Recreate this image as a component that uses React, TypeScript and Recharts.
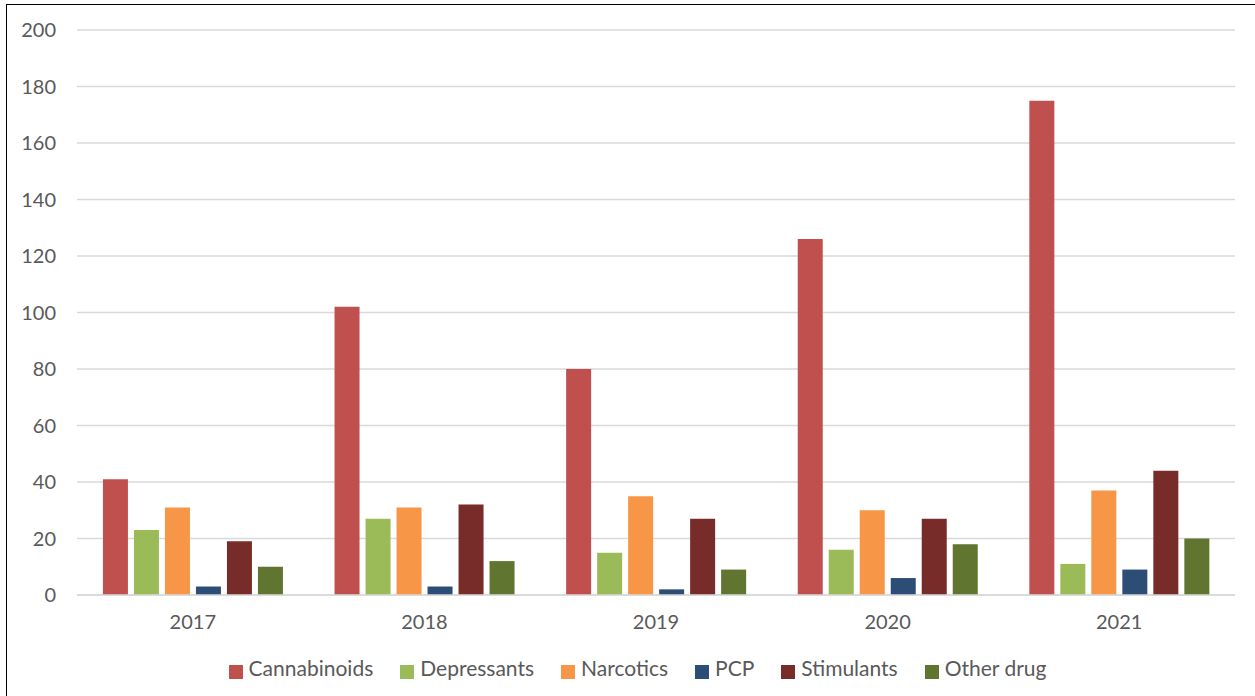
import {
  BarChart,
  Bar,
  XAxis,
  YAxis,
  CartesianGrid,
  Legend,
} from 'recharts'

const years = ['2017', '2018', '2019', '2020', '2021']
const cannabinoids = [41, 102, 80, 126, 175]
const depressants = [23, 27, 15, 16, 11]
const narcotics = [31, 31, 35, 30, 37]
const pcp = [3, 3, 2, 6, 9]
const stimulants = [19, 32, 27, 27, 44]
const otherDrug = [10, 12, 9, 18, 20]
const yTicks = [0, 20, 40, 60, 80, 100, 120, 140, 160, 180, 200]

const series = [
  { key: 'Cannabinoids', color: '#C0504D' },
  { key: 'Depressants', color: '#9BBB59' },
  { key: 'Narcotics', color: '#F79646' },
  { key: 'PCP', color: '#2C4D75' },
  { key: 'Stimulants', color: '#772C2A' },
  { key: 'Other drug', color: '#5F7530' },
]

const data = years.map((year, i) => ({
  year,
  Cannabinoids: cannabinoids[i],
  Depressants: depressants[i],
  Narcotics: narcotics[i],
  PCP: pcp[i],
  Stimulants: stimulants[i],
  'Other drug': otherDrug[i],
}))

const font = 'Lato, "Liberation Sans", sans-serif'

export default function App() {
  return (
    <div
      style={{
        position: 'absolute',
        left: 6,
        top: 4,
        width: 1250,
        height: 696,
        border: '1px solid #000',
        background: '#fff',
        fontFamily: font,
      }}
    >
      <BarChart
        width={1248}
        height={690}
        data={data}
        margin={{ top: 25, right: 20, left: 0, bottom: 12 }}
        barCategoryGap="11.2%"
        barGap={6}
      >
        <CartesianGrid vertical={false} stroke="#d9d9d9" strokeWidth={1.5} />
        <XAxis
          dataKey="year"
          axisLine={{ stroke: '#d9d9d9', strokeWidth: 1.5 }}
          tickLine={false}
          tickMargin={14}
          height={60}
          tick={{ fill: '#595959', fontSize: 20, fontFamily: font }}
        />
        <YAxis
          domain={[0, 200]}
          ticks={yTicks}
          width={70}
          axisLine={false}
          tickLine={false}
          tickMargin={15}
          tick={{ fill: '#595959', fontSize: 20, fontFamily: font }}
        />
        <Legend
          verticalAlign="bottom"
          iconType="square"
          iconSize={14}
          height={28}
          wrapperStyle={{ left: 30 }}
          itemSorter={(item: any) => series.findIndex((s) => s.key === item.value)}
          formatter={(value) => (
            <span
              style={{
                color: '#595959',
                fontSize: 21,
                fontFamily: font,
                marginLeft: 2,
                marginRight: 17,
              }}
            >
              {value}
            </span>
          )}
        />
        {series.map((s) => (
          <Bar key={s.key} dataKey={s.key} fill={s.color} isAnimationActive={false} />
        ))}
      </BarChart>
    </div>
  )
}
